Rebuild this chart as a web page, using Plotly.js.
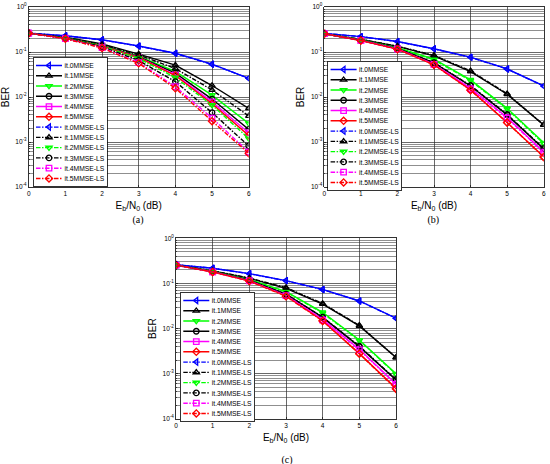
<!DOCTYPE html>
<html><head><meta charset="utf-8">
<script src="https://cdn.plot.ly/plotly-3.0.1.min.js"></script>
<style>
html,body{margin:0;padding:0;overflow:hidden;background:#fff;}
#wrap{width:550px;height:464px;overflow:hidden;position:relative;}
#plot{width:1100px;height:928px;zoom:0.5;}
</style></head><body><div id="wrap"><div id="plot"></div></div>
<script>
// ---------- data ----------
const ebn0 = [0, 1, 2, 3, 4, 5, 6];
const seriesNames = ['it.0MMSE','it.1MMSE','it.2MMSE','it.3MMSE','it.4MMSE','it.5MMSE',
                     'it.0MMSE-LS','it.1MMSE-LS','it.2MMSE-LS','it.3MMSE-LS','it.4MMSE-LS','it.5MMSE-LS'];
const yTickVals = [1e-4, 1e-3, 1e-2, 1e-1, 1];
const yTickExp  = ['-4', '-3', '-2', '-1', '0'];
const panelLabels = ['(a)', '(b)', '(c)'];

// panel (a)
const a_mmse0 = [0.263, 0.230, 0.187, 0.136, 0.094, 0.054, 0.026];
const a_mmse1 = [0.262, 0.212, 0.152, 0.090, 0.051, 0.018, 0.0056];
const a_mmse2 = [0.262, 0.206, 0.142, 0.080, 0.037, 0.011, 0.0026];
const a_mmse3 = [0.262, 0.205, 0.139, 0.078, 0.034, 0.0090, 0.0019];
const a_mmse4 = [0.262, 0.204, 0.137, 0.076, 0.031, 0.0078, 0.0016];
const a_mmse5 = [0.262, 0.203, 0.135, 0.075, 0.030, 0.0071, 0.0014];
const a_ls0   = [0.263, 0.229, 0.186, 0.135, 0.093, 0.053, 0.026];
const a_ls1   = [0.262, 0.209, 0.146, 0.086, 0.043, 0.0143, 0.0038];
const a_ls2   = [0.262, 0.203, 0.136, 0.072, 0.027, 0.0066, 0.0012];
const a_ls3   = [0.262, 0.200, 0.130, 0.065, 0.022, 0.0045, 0.00082];
const a_ls4   = [0.262, 0.198, 0.125, 0.058, 0.017, 0.0034, 0.00060];
const a_ls5   = [0.262, 0.197, 0.122, 0.056, 0.0156, 0.0029, 0.00056];

// panel (b)
const b_mmse0 = [0.260, 0.220, 0.171, 0.118, 0.077, 0.042, 0.0176];
const b_mmse1 = [0.255, 0.190, 0.133, 0.082, 0.0367, 0.0115, 0.0024];
const b_mmse2 = [0.255, 0.185, 0.125, 0.069, 0.024, 0.0056, 0.00096];
const b_mmse3 = [0.255, 0.183, 0.120, 0.057, 0.0176, 0.0040, 0.00070];
const b_mmse4 = [0.255, 0.182, 0.118, 0.054, 0.0156, 0.0035, 0.00060];
const b_mmse5 = [0.255, 0.180, 0.116, 0.052, 0.0144, 0.0027, 0.00047];
const b_ls0   = [0.260, 0.220, 0.170, 0.117, 0.076, 0.042, 0.0175];
const b_ls1   = [0.255, 0.191, 0.135, 0.084, 0.038, 0.0118, 0.0024];
const b_ls2   = [0.255, 0.185, 0.124, 0.067, 0.023, 0.0054, 0.00092];
const b_ls3   = [0.255, 0.183, 0.121, 0.058, 0.0180, 0.0041, 0.00072];
const b_ls4   = [0.255, 0.181, 0.117, 0.053, 0.0152, 0.0034, 0.00058];
const b_ls5   = [0.255, 0.180, 0.115, 0.052, 0.0142, 0.0027, 0.00046];

// panel (c)
const c_mmse0 = [0.260, 0.218, 0.165, 0.116, 0.074, 0.041, 0.0170];
const c_mmse1 = [0.255, 0.190, 0.130, 0.078, 0.035, 0.0115, 0.0023];
const c_mmse2 = [0.255, 0.185, 0.122, 0.066, 0.023, 0.0056, 0.0010];
const c_mmse3 = [0.255, 0.183, 0.118, 0.058, 0.0178, 0.0040, 0.00073];
const c_mmse4 = [0.255, 0.182, 0.116, 0.055, 0.0160, 0.0035, 0.00060];
const c_mmse5 = [0.255, 0.180, 0.114, 0.053, 0.0150, 0.0028, 0.00048];
const c_ls0   = [0.260, 0.218, 0.164, 0.115, 0.073, 0.041, 0.0170];
const c_ls1   = [0.255, 0.191, 0.132, 0.081, 0.036, 0.0118, 0.0023];
const c_ls2   = [0.255, 0.185, 0.121, 0.065, 0.022, 0.0055, 0.00098];
const c_ls3   = [0.255, 0.183, 0.119, 0.058, 0.0180, 0.0041, 0.00075];
const c_ls4   = [0.255, 0.181, 0.115, 0.054, 0.0155, 0.0034, 0.00058];
const c_ls5   = [0.255, 0.180, 0.113, 0.052, 0.0148, 0.0028, 0.00046];

// ---------- styling ----------
const S = 2; // drawing scale (page is scaled down by CSS zoom)
const colors  = ['#0000ff','#000000','#00ff00','#000000','#ff00ff','#ff0000'];
const symbols = ['triangle-left-open','triangle-up-open','triangle-down-open','circle-open','square-open','diamond-open'];
const FONT = 'Liberation Sans, Arial, sans-serif';
const SUP = '<span style="font-size:70%;baseline-shift:55%">';
const SUB = '<span style="font-size:70%;baseline-shift:-25%">';
const yTickText = yTickExp.map(e => '10' + SUP + e + '</span>');
const xTitle = 'E' + SUB + 'b</span>/N' + SUB + '0</span> (dB)';

const panels = [
  [a_mmse0,a_mmse1,a_mmse2,a_mmse3,a_mmse4,a_mmse5,a_ls0,a_ls1,a_ls2,a_ls3,a_ls4,a_ls5],
  [b_mmse0,b_mmse1,b_mmse2,b_mmse3,b_mmse4,b_mmse5,b_ls0,b_ls1,b_ls2,b_ls3,b_ls4,b_ls5],
  [c_mmse0,c_mmse1,c_mmse2,c_mmse3,c_mmse4,c_mmse5,c_ls0,c_ls1,c_ls2,c_ls3,c_ls4,c_ls5]
];
const axisIds = [['x','y'],['x2','y2'],['x3','y3']];
const legendIds = ['legend','legend2','legend3'];

const traces = [];
panels.forEach((series, p) => {
  series.forEach((vals, i) => {
    const k = i % 6;
    const ls = i >= 6;
    traces.push({
      type: 'scatter', mode: 'lines+markers',
      x: ebn0, y: vals, name: seriesNames[i],
      xaxis: axisIds[p][0], yaxis: axisIds[p][1], legend: legendIds[p],
      line: {color: colors[k], width: 1.4 * S, dash: ls ? 'dashdot' : 'solid'},
      marker: {symbol: symbols[k], size: 5.5 * S, color: colors[k], line: {color: colors[k], width: 1.3 * S}}
    });
  });
});

// minor gridline positions for the log axis
const minorVals = [];
for (let e = -4; e < 0; e++) for (let m = 2; m <= 9; m++) minorVals.push(m * Math.pow(10, e));

function xax(domain, anchor) {
  return {
    domain: domain, anchor: anchor, range: [0, 6], dtick: 1, tick0: 0,
    showgrid: true, gridcolor: '#2a2a2a', gridwidth: 0.7 * S, zeroline: false,
    showline: true, linecolor: '#000', linewidth: 0.8 * S, mirror: true,
    ticks: 'inside', ticklen: 2 * S, tickcolor: '#000', tickwidth: 0.6 * S,
    tickfont: {size: 6.5 * S, color: '#000', family: FONT},
    title: {text: xTitle, font: {size: 10 * S, color: '#000', family: FONT}, standoff: 5 * S},
    fixedrange: true
  };
}
function yax(domain, anchor) {
  return {
    domain: domain, anchor: anchor, type: 'log', range: [-4, 0],
    tickvals: yTickVals, ticktext: yTickText,
    showgrid: true, gridcolor: '#2a2a2a', gridwidth: 0.7 * S, zeroline: false,
    minor: {tickvals: minorVals, showgrid: true, gridcolor: '#444444', gridwidth: 0.6 * S, ticks: 'inside', ticklen: 1 * S, tickcolor: '#000'},
    showline: true, linecolor: '#000', linewidth: 0.8 * S, mirror: true,
    ticks: 'inside', ticklen: 2 * S, tickcolor: '#000', tickwidth: 0.6 * S,
    tickfont: {size: 6.5 * S, color: '#000', family: FONT},
    title: {text: 'BER', font: {size: 10 * S, color: '#000', family: FONT}, standoff: 4 * S},
    fixedrange: true
  };
}
function leg(x, y) {
  return {
    x: x, y: y, xanchor: 'left', yanchor: 'top',
    bgcolor: '#ffffff', bordercolor: '#000', borderwidth: 0.8 * S,
    font: {size: 6.75 * S, color: '#000', family: FONT},
    itemwidth: 26 * S, tracegroupgap: 0, traceorder: 'normal'
  };
}

const W = 550, H = 464;
const layout = {
  width: W * S, height: H * S,
  margin: {l: 0, r: 0, t: 0, b: 0},
  paper_bgcolor: '#fff', plot_bgcolor: '#fff',
  font: {family: FONT, size: 6.5 * S, color: '#000'},
  showlegend: true,
  xaxis:  xax([28.7 / W, 248.7 / W], 'y'),
  yaxis:  yax([1 - 187 / H, 1 - 7 / H], 'x'),
  xaxis2: xax([324.3 / W, 543.7 / W], 'y2'),
  yaxis2: yax([1 - 187 / H, 1 - 7 / H], 'x2'),
  xaxis3: xax([176 / W, 396 / W], 'y3'),
  yaxis3: yax([1 - 419 / H, 1 - 238.3 / H], 'x3'),
  legend:  leg(32.7 / W, 1 - 57 / H),
  legend2: leg(327.3 / W, 1 - 61 / H),
  legend3: leg(180 / W, 1 - 292 / H),
  annotations: [
    {text: panelLabels[0], xref: 'paper', yref: 'paper', x: 138 / W, y: 1 - 219 / H, showarrow: false, xanchor: 'center', yanchor: 'middle', font: {size: 10 * S, family: 'Liberation Serif, Times New Roman, serif', color: '#000'}},
    {text: panelLabels[1], xref: 'paper', yref: 'paper', x: 433 / W, y: 1 - 219 / H, showarrow: false, xanchor: 'center', yanchor: 'middle', font: {size: 10 * S, family: 'Liberation Serif, Times New Roman, serif', color: '#000'}},
    {text: panelLabels[2], xref: 'paper', yref: 'paper', x: 287 / W, y: 1 - 459 / H, showarrow: false, xanchor: 'center', yanchor: 'middle', font: {size: 10 * S, family: 'Liberation Serif, Times New Roman, serif', color: '#000'}}
  ]
};

Plotly.newPlot('plot', traces, layout, {displayModeBar: false, staticPlot: true});
</script></body></html>
